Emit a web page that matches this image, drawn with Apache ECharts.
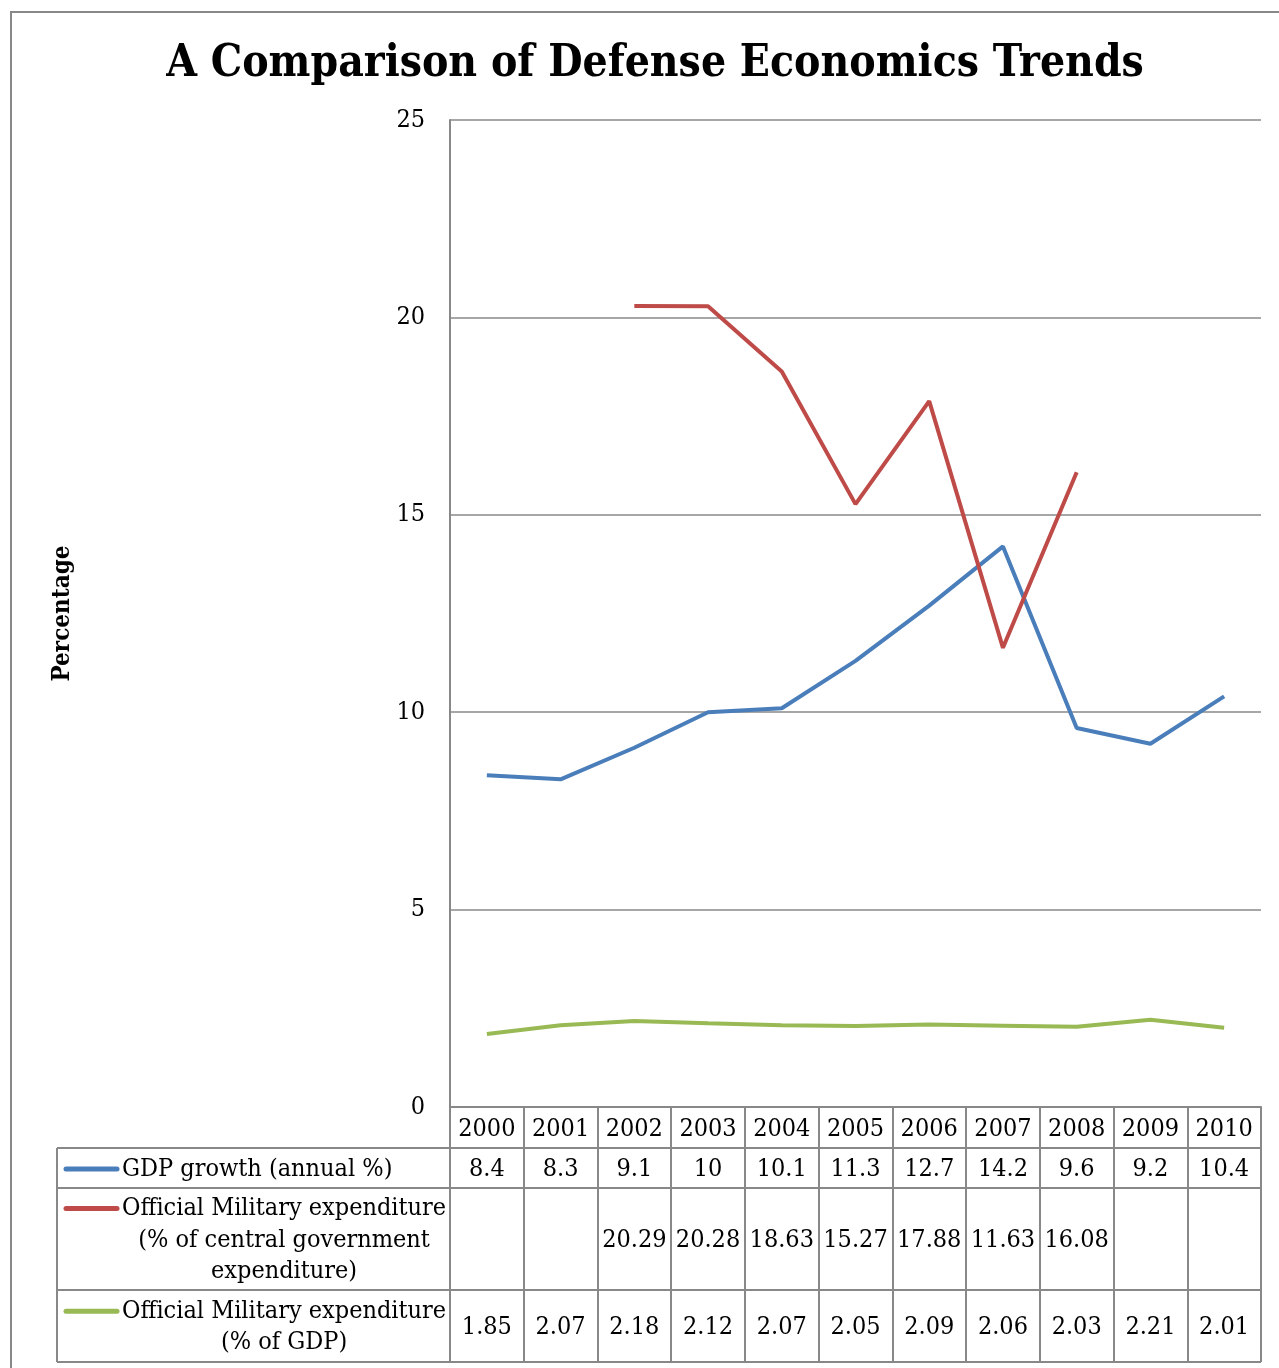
<!DOCTYPE html>
<html><head><meta charset="utf-8">
<script src="https://cdn.jsdelivr.net/npm/echarts@6/dist/echarts.min.js"></script>
<style>html,body{margin:0;padding:0;background:#fff}#c{width:1279px;height:1368px}</style>
</head><body><div id="c"></div>
<script>
const titleText = 'A Comparison of Defense Economics Trends';
const yAxisName = 'Percentage';
const years = ['2000','2001','2002','2003','2004','2005','2006','2007','2008','2009','2010'];
const gdpGrowth = [8.4, 8.3, 9.1, 10, 10.1, 11.3, 12.7, 14.2, 9.6, 9.2, 10.4];
const milCentral = [null, null, 20.29, 20.28, 18.63, 15.27, 17.88, 11.63, 16.08, null, null];
const milGdp = [1.85, 2.07, 2.18, 2.12, 2.07, 2.05, 2.09, 2.06, 2.03, 2.21, 2.01];
const seriesNames = ['GDP growth (annual %)', 'Official Military expenditure (% of central government expenditure)', 'Official Military expenditure (% of GDP)'];
const legendLines = [['GDP growth (annual %)'], ['Official Military expenditure', '(% of central government', 'expenditure)'], ['Official Military expenditure', '(% of GDP)']];
const yMin = 0, yMax = 25, yStep = 5;

const FONT = '"DejaVu Serif Condensed", "Liberation Serif", serif';
const colors = ['#4A7EBB', '#BE4B48', '#98B954'];
const GRAY = '#888888';
const TFS = 25;

const chart = echarts.init(document.getElementById('c'), null, {renderer: 'canvas'});
const seriesData = [gdpGrowth, milCentral, milGdp];

chart.setOption({
  animation: false,
  backgroundColor: '#fff',
  title: {
    text: titleText, left: 650, top: 38, textAlign: 'center',
    textStyle: {fontFamily: FONT, fontWeight: 'bold', fontSize: 44, color: '#000'}
  },
  grid: {left: 450, right: 18, top: 120, bottom: 261},
  xAxis: {
    type: 'category', data: years, boundaryGap: true,
    axisLine: {show: true, lineStyle: {color: GRAY, width: 2}},
    axisTick: {show: true, interval: 0, length: 255, lineStyle: {color: GRAY, width: 2}},
    axisLabel: {show: true, interval: 0, margin: 10, fontFamily: FONT, fontSize: TFS, color: '#000'},
    splitLine: {show: false}
  },
  yAxis: {
    type: 'value', min: yMin, max: yMax, interval: yStep,
    name: yAxisName, nameLocation: 'middle', nameGap: 375, nameRotate: 90,
    nameTextStyle: {fontFamily: FONT, fontWeight: 'bold', fontSize: 24, color: '#000'},
    axisLine: {show: true, lineStyle: {color: GRAY, width: 2}},
    axisTick: {show: false},
    axisLabel: {margin: 25, fontFamily: FONT, fontSize: 25, color: '#000', padding: [6, 0, 0, 0]},
    splitLine: {show: true, lineStyle: {color: GRAY, width: 1.5}}
  },
  series: seriesData.map((d, i) => ({
    name: seriesNames[i], type: 'line', data: d, symbol: 'none', connectNulls: false,
    lineStyle: {color: colors[i], width: 4}, itemStyle: {color: colors[i]}, z: 3
  }))
});

function fmt(v) { return v == null ? '' : String(v); }

const mctx = document.createElement('canvas').getContext('2d');
mctx.font = TFS + 'px ' + FONT;
function textW(t) { return mctx.measureText(t).width; }

const y0 = chart.convertToPixel({yAxisIndex: 0}, 0);
const xs = years.map((_, i) => chart.convertToPixel({xAxisIndex: 0}, i));
const colW = xs.length > 1 ? xs[1] - xs[0] : 74;
const tableRightX = xs[xs.length - 1] + colW / 2;
const rowBounds = [y0 + 41, y0 + 81, y0 + 183, y0 + 255];
const legendLeft = 57;
const lineH = 31.5;
const textLeft = 122;

const g = [];
g.push({type: 'rect', shape: {x: 11, y: 12, width: 1300, height: 1400}, style: {fill: null, stroke: GRAY, lineWidth: 2}, silent: true});
rowBounds.forEach(yb => g.push({type: 'line', shape: {x1: legendLeft, y1: yb, x2: tableRightX, y2: yb}, style: {stroke: GRAY, lineWidth: 2}}));
g.push({type: 'line', shape: {x1: legendLeft, y1: rowBounds[0], x2: legendLeft, y2: rowBounds[3]}, style: {stroke: GRAY, lineWidth: 2}});

for (let r = 0; r < 3; r++) {
  const top = rowBounds[r], bot = rowBounds[r + 1];
  const mid = (top + bot) / 2 + 1;
  const lines = legendLines[r];
  const maxW = Math.max(...lines.map(textW));
  const cx = textLeft + maxW / 2;
  const firstLineY = mid - (lines.length - 1) * lineH / 2;
  g.push({type: 'line', shape: {x1: 66, y1: firstLineY, x2: 117, y2: firstLineY}, style: {stroke: colors[r], lineWidth: 5, lineCap: 'round'}});
  lines.forEach((t, k) => g.push({type: 'text', x: cx, y: firstLineY + k * lineH, style: {text: t, fontFamily: FONT, fontSize: TFS, fill: '#000', align: 'center', verticalAlign: 'middle'}}));
  seriesData[r].forEach((v, i) => {
    if (v == null) return;
    g.push({type: 'text', x: xs[i], y: mid, style: {text: fmt(v), fontFamily: FONT, fontSize: TFS, fill: '#000', align: 'center', verticalAlign: 'middle'}});
  });
}
chart.setOption({graphic: g});
</script></body></html>
